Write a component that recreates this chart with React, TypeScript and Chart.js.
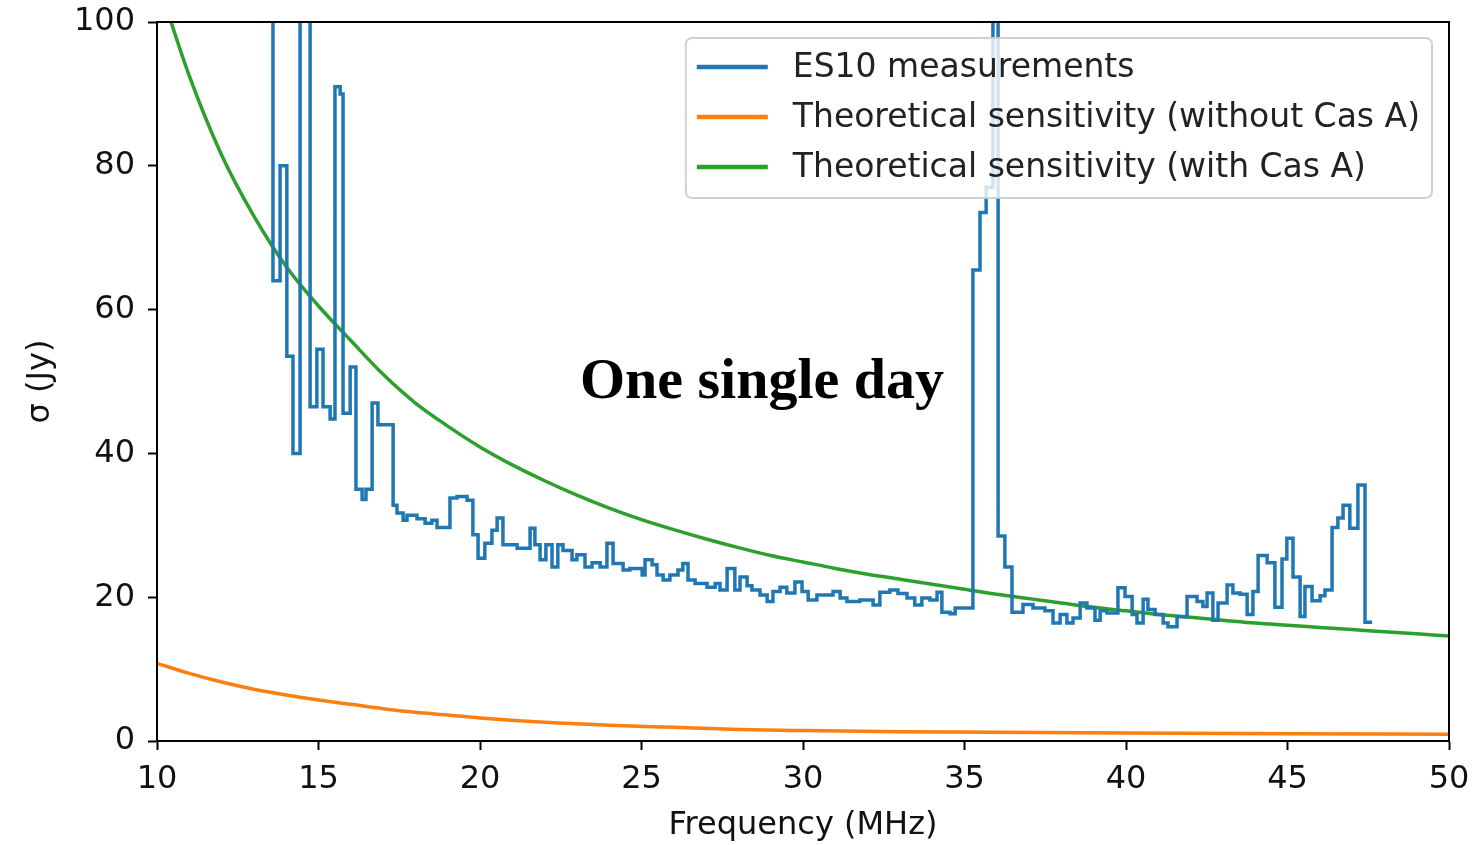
import React, { useEffect, useRef } from "react";
import { Chart, registerables } from "chart.js";

Chart.register(...registerables);

// ES10 measurements: start frequency of each step (MHz) and sigma (Jy)
const measFreq = [
  13.5, 13.59, 13.81, 14.02, 14.21, 14.43, 14.74, 14.95, 15.14, 15.36, 15.51, 15.67, 15.76, 15.98,
  16.16, 16.35, 16.47, 16.66, 16.84, 17.31, 17.43, 17.62, 17.74, 18.05, 18.3, 18.51, 18.67, 19.07,
  19.29, 19.6, 19.78, 19.94, 20.15, 20.37, 20.53, 20.71, 21.15, 21.55, 21.7, 21.86, 22.04, 22.23,
  22.41, 22.57, 22.85, 23.0, 23.25, 23.47, 23.72, 23.93, 24.12, 24.43, 24.64, 25.02, 25.11, 25.33,
  25.48, 25.67, 25.88, 26.13, 26.28, 26.44, 26.66, 27.03, 27.28, 27.43, 27.65, 27.89, 28.05, 28.27,
  28.42, 28.67, 28.89, 29.07, 29.29, 29.5, 29.75, 29.97, 30.16, 30.43, 30.93, 31.15, 31.36, 31.76,
  32.17, 32.38, 32.69, 32.94, 33.22, 33.46, 33.68, 33.93, 34.15, 34.3, 34.55, 34.71, 35.26, 35.48,
  35.67, 35.88, 36.04, 36.25, 36.47, 36.81, 37.12, 37.49, 37.74, 37.96, 38.17, 38.36, 38.58, 38.79,
  39.04, 39.2, 39.41, 39.75, 39.97, 40.19, 40.34, 40.53, 40.68, 40.9, 41.15, 41.3, 41.58, 41.89,
  42.2, 42.38, 42.51, 42.69, 42.85, 43.13, 43.31, 43.53, 43.75, 43.93, 44.09, 44.37, 44.61, 44.83,
  44.98, 45.17, 45.39, 45.54, 45.76, 46.01, 46.16, 46.38, 46.56, 46.72, 46.93, 47.18, 47.4, 47.62,
];
const measSigma = [
  130, 64, 80, 53.5, 40, 130, 46.5, 54.5, 46.5, 44.8, 91, 90, 45.6, 52,
  35, 33.6, 35, 47, 44, 32.8, 31.7, 30.7, 31.4, 30.9, 30.3, 30.7, 29.7, 33.8,
  34, 33.5, 28.7, 25.4, 27.5, 29.3, 31, 27.3, 26.8, 29.6, 27.3, 25.2, 27.3, 24.2,
  27.3, 26.5, 25.2, 25.9, 24.2, 24.8, 24.2, 27.5, 24.7, 23.8, 24, 23.1, 25.2, 24.5,
  23.1, 22.4, 23.1, 23.8, 24.7, 22.4, 21.9, 21.4, 21.9, 21, 24, 21, 22.8, 21.6,
  21, 20.3, 19.4, 20.8, 21.4, 20.6, 22.1, 20.8, 19.6, 20.3, 20.8, 19.9, 19.4, 19.6,
  18.9, 20.7, 21, 20.5, 19.9, 18.9, 19.9, 19.6, 20.7, 17.9, 17.7, 18.5, 65.5, 73.5,
  77, 130, 28.5, 24.2, 17.9, 19, 18.5, 18.1, 16.4, 17.6, 16.4, 17.1, 19.2, 18.5,
  16.8, 18.1, 17.8, 21.3, 20.1, 17.6, 16.4, 19.7, 18.3, 17.6, 16.4, 15.9, 17.3, 20.1,
  19.4, 18.7, 20.6, 16.8, 19.2, 21.7, 20.6, 20.4, 17.6, 20.8, 25.8, 24.8, 18.6, 25.3,
  28.2, 22.8, 17.3, 21.5, 19.5, 20.2, 21, 29.7, 31, 32.8, 29.6, 35.6, 16.5, 16.5,
];

// Theoretical sensitivity with Cas A
const withFreq = [
  10, 11, 12, 13, 14, 15, 16, 17, 18, 19, 20, 21, 22, 23, 24, 25, 26, 27, 28, 29, 30,
  31, 32, 33, 34, 35, 36, 37, 38, 39, 40, 41, 42, 43, 44, 45, 46, 47, 48, 49, 50,
];
const withSigma = [
  106, 92.5, 81.5, 73, 66, 60.5, 55.7, 51, 47, 43.8, 40.9, 38.4, 36.2, 34.2, 32.4, 30.8, 29.4,
  28.1, 26.9, 25.8, 24.9, 24, 23.2, 22.5, 21.8, 21.1, 20.4, 19.8, 19.2, 18.6, 18.1, 17.6, 17.2,
  16.8, 16.4, 16.1, 15.8, 15.5, 15.2, 14.9, 14.6,
];

// Theoretical sensitivity without Cas A
const withoutFreq = [10, 11, 12, 13, 14, 15, 16, 17, 18, 19, 20, 22, 24, 26, 28, 30, 33, 36, 40, 45, 50];
const withoutSigma = [10.8, 9.4, 8.2, 7.2, 6.4, 5.7, 5.1, 4.5, 4.0, 3.6, 3.2, 2.6, 2.2, 1.9, 1.6, 1.45, 1.3, 1.2, 1.1, 1.0, 0.95];

const xTicks = [10, 15, 20, 25, 30, 35, 40, 45, 50];
const yTicks = [0, 20, 40, 60, 80, 100];

const seriesLabels = [
  "ES10 measurements",
  "Theoretical sensitivity (without Cas A)",
  "Theoretical sensitivity (with Cas A)",
];
const seriesColors = ["#1f77b4", "#ff7f0e", "#2ca02c"];
const annotationText = "One single day";
const annotationAt = { x: 28.73, y: 47.7 };

const FONT = "'DejaVu Sans', sans-serif";

const framePlugin = {
  id: "frame",
  afterDraw(chart: any) {
    const { ctx, chartArea } = chart;
    ctx.save();
    ctx.strokeStyle = "#000";
    ctx.lineWidth = 2;
    ctx.strokeRect(chartArea.left, chartArea.top, chartArea.right - chartArea.left, chartArea.bottom - chartArea.top);
    ctx.restore();
  },
};

const annotationPlugin = {
  id: "annot",
  afterDraw(chart: any) {
    const { ctx, scales } = chart;
    ctx.save();
    ctx.font = "bold 58px 'Liberation Serif', serif";
    ctx.fillStyle = "#000";
    ctx.textAlign = "center";
    ctx.textBaseline = "alphabetic";
    ctx.fillText(annotationText, scales.x.getPixelForValue(annotationAt.x), scales.y.getPixelForValue(annotationAt.y));
    ctx.restore();
  },
};

const legendPlugin = {
  id: "boxLegend",
  afterDatasetsDraw(chart: any) {
    const { ctx, chartArea } = chart;
    ctx.save();
    ctx.font = `33px ${FONT}`;
    const texts = chart.data.datasets.map((d: any) => d.label);
    const maxW = Math.max(...texts.map((t: string) => ctx.measureText(t).width));
    const padL = 11, lineLen = 71, gap = 25, padR = 12;
    const w = padL + lineLen + gap + maxW + padR;
    const h = 160;
    const right = chartArea.right - 17;
    const left = right - w;
    const top = chartArea.top + 16;
    const r = 7;
    ctx.beginPath();
    ctx.moveTo(left + r, top);
    ctx.lineTo(right - r, top);
    ctx.quadraticCurveTo(right, top, right, top + r);
    ctx.lineTo(right, top + h - r);
    ctx.quadraticCurveTo(right, top + h, right - r, top + h);
    ctx.lineTo(left + r, top + h);
    ctx.quadraticCurveTo(left, top + h, left, top + h - r);
    ctx.lineTo(left, top + r);
    ctx.quadraticCurveTo(left, top, left + r, top);
    ctx.closePath();
    ctx.fillStyle = "rgba(255,255,255,0.8)";
    ctx.fill();
    ctx.strokeStyle = "rgba(204,204,204,0.9)";
    ctx.lineWidth = 2;
    ctx.stroke();
    texts.forEach((t: string, i: number) => {
      const y = top + 29 + i * 50;
      ctx.strokeStyle = chart.data.datasets[i].borderColor;
      ctx.lineWidth = 4.5;
      ctx.beginPath();
      ctx.moveTo(left + padL, y);
      ctx.lineTo(left + padL + lineLen, y);
      ctx.stroke();
      ctx.fillStyle = "#222";
      ctx.textAlign = "left";
      ctx.textBaseline = "middle";
      ctx.fillText(t, left + padL + lineLen + gap, y + 1);
    });
    ctx.restore();
  },
};

export default function App() {
  const ref = useRef<HTMLCanvasElement>(null);
  useEffect(() => {
    const canvas = ref.current!;
    const toPts = (xs: number[], ys: number[]) => xs.map((x, i) => ({ x, y: ys[i] }));
    const chart = new Chart(canvas, {
      type: "line",
      data: {
        datasets: [
          {
            label: seriesLabels[0],
            data: toPts(measFreq, measSigma),
            borderColor: seriesColors[0],
            borderWidth: 3.5,
            pointRadius: 0,
            stepped: "before",
            fill: false,
          },
          {
            label: seriesLabels[1],
            data: toPts(withoutFreq, withoutSigma),
            borderColor: seriesColors[1],
            borderWidth: 3.5,
            pointRadius: 0,
            cubicInterpolationMode: "monotone",
            fill: false,
          },
          {
            label: seriesLabels[2],
            data: toPts(withFreq, withSigma),
            borderColor: seriesColors[2],
            borderWidth: 3.5,
            pointRadius: 0,
            cubicInterpolationMode: "monotone",
            fill: false,
          },
        ],
      },
      options: {
        responsive: false,
        animation: false,
        layout: { padding: { left: 0, top: 22, right: 24, bottom: 0 } },
        plugins: { legend: { display: false }, tooltip: { enabled: false } },
        scales: {
          x: {
            type: "linear",
            min: 10,
            max: 50,
            afterBuildTicks: (s: any) => {
              s.ticks = xTicks.map((v) => ({ value: v }));
            },
            afterFit: (s: any) => {
              s.height = 104;
              s.paddingLeft = 0;
              s.paddingRight = 0;
            },
            grid: { drawOnChartArea: false, drawTicks: true, tickLength: 9, tickWidth: 2, tickColor: "#000" },
            border: { display: true, color: "#000", width: 2 },
            ticks: { color: "#111", font: { family: FONT, size: 32 }, padding: 10, maxRotation: 0 },
            title: { display: true, text: "Frequency (MHz)", color: "#111", font: { family: FONT, size: 32 }, padding: { top: 0, bottom: 0 } },
          },
          y: {
            type: "linear",
            min: 0,
            max: 100,
            afterBuildTicks: (s: any) => {
              s.ticks = yTicks.map((v) => ({ value: v }));
            },
            afterFit: (s: any) => {
              s.width = 157;
              s.paddingTop = 0;
              s.paddingBottom = 0;
            },
            grid: { drawOnChartArea: false, drawTicks: true, tickLength: 9, tickWidth: 2, tickColor: "#000" },
            border: { display: true, color: "#000", width: 2 },
            ticks: { color: "#111", font: { family: FONT, size: 32 }, padding: 13 },
            title: { display: true, text: "σ (Jy)", color: "#111", font: { family: FONT, size: 32 }, padding: { top: 21, bottom: 0 } },
          },
        },
      },
      plugins: [legendPlugin, framePlugin, annotationPlugin],
    } as any);
    return () => chart.destroy();
  }, []);
  return (
    <div style={{ position: "absolute", left: 0, top: 0, width: 1473, height: 845, background: "#fff" }}>
      <canvas ref={ref} width={1473} height={845} />
    </div>
  );
}
